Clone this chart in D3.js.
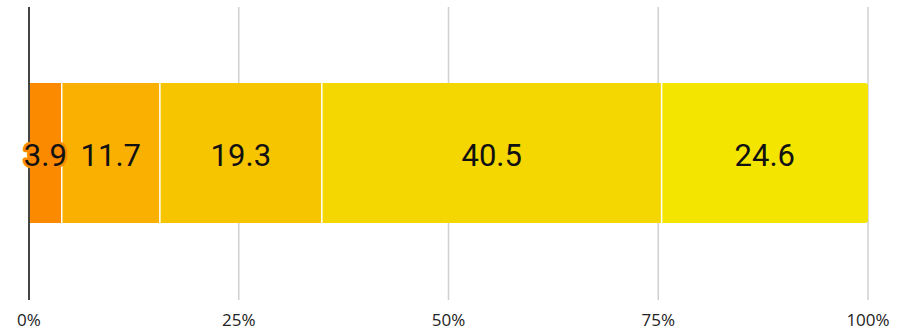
<!DOCTYPE html>
<html><head><meta charset="utf-8">
<script src="https://cdn.jsdelivr.net/npm/d3@7"></script>
<style>html,body{margin:0;padding:0;background:#fff;}svg{display:block;}</style>
</head><body><svg id="c" width="897" height="329"></svg>
<script>
const categories = ["A","B","C","D","E"];
const values = [3.9, 11.7, 19.3, 40.5, 24.6];
const colors = ["#FB8A00","#F9B000","#F7C500","#F4D600","#F3E500"];
const tickValues = [0, 25, 50, 75, 100];
const tickLabels = ["0%","25%","50%","75%","100%"];

const svg = d3.select("#c");
const x = d3.scaleLinear().domain([0,100]).range([29,868]);
const y0 = 83, y1 = 223;

// gridlines
svg.append("g").selectAll("line").data(tickValues.slice(1)).join("line")
  .attr("x1", d=>x(d)).attr("x2", d=>x(d)).attr("y1", 7).attr("y2", 300)
  .attr("stroke", "#d0d0d0").attr("stroke-width", 1.5);

// stacked segments
let acc = 0;
const segs = values.map((v,i)=>{ const s = {v, i, start: acc, end: acc+v}; acc += v; return s; });
const g = svg.append("g");
segs.forEach(s=>{
  const x0 = x(s.start), x1 = x(s.end);
  if (s.i === segs.length-1) {
    const r = 3;
    g.append("path").attr("fill", colors[s.i])
      .attr("d", `M${x0},${y0}H${x1-r}Q${x1},${y0} ${x1},${y0+r}V${y1-r}Q${x1},${y1} ${x1-r},${y1}H${x0}Z`);
  } else {
    g.append("rect").attr("x", x0).attr("y", y0).attr("width", x1-x0).attr("height", y1-y0).attr("fill", colors[s.i]);
  }
});
// separators
g.selectAll("line.sep").data(segs.slice(1)).join("line").attr("class","sep")
  .attr("x1", d=>x(d.start)).attr("x2", d=>x(d.start)).attr("y1", y0).attr("y2", y1)
  .attr("stroke", "#fff").attr("stroke-width", 1.5);

// axis line
svg.append("line").attr("x1", x(0)).attr("x2", x(0)).attr("y1", 7).attr("y2", 300)
  .attr("stroke", "#444").attr("stroke-width", 2);

// value labels
svg.append("g").selectAll("text").data(segs).join("text")
  .attr("x", d=>x((d.start+d.end)/2)).attr("y", (y0+y1)/2 + 2)
  .attr("text-anchor","middle").attr("dominant-baseline","central")
  .attr("font-family","Roboto, sans-serif").attr("font-size", 31)
  .attr("fill","#111")
  .attr("stroke", (d,i)=> i===0 ? colors[0] : "none").attr("stroke-width", 5)
  .attr("stroke-linejoin","round").attr("paint-order","stroke")
  .text(d=>d.v.toFixed(1));

// tick labels
svg.append("g").selectAll("text").data(tickValues).join("text")
  .attr("x", d=>x(d)).attr("y", 319)
  .attr("text-anchor","middle").attr("dominant-baseline","central")
  .attr("font-family","'Open Sans', sans-serif").attr("font-size", 17)
  .attr("fill","#222")
  .text((d,i)=>tickLabels[i]);
</script></body></html>
